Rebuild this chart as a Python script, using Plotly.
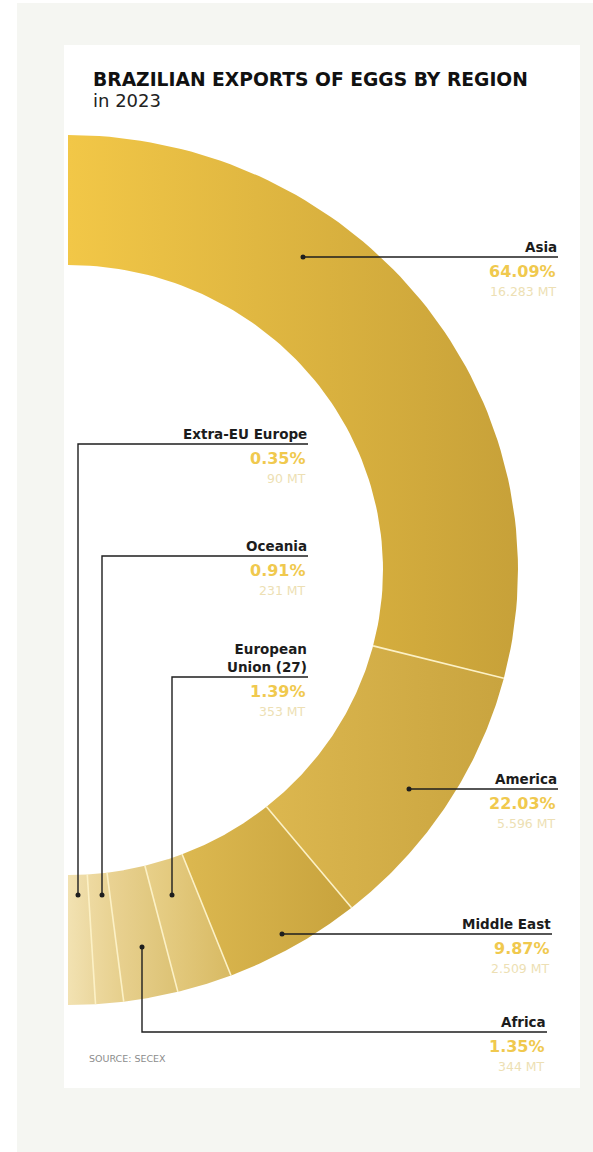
import numpy as np
import plotly.graph_objects as go

regions = ["Asia", "America", "Middle East", "European<br>Union (27)", "Africa", "Oceania", "Extra-EU Europe"]
share_pct = [64.09, 22.03, 9.87, 1.39, 1.35, 0.91, 0.35]
volume_mt = ["16.283", "5.596", "2.509", "353", "344", "231", "90"]
# size of each slice as drawn (% of the half ring) - the small regions are widened in the graphic
arc_pct = [58.0, 20.3, 9.9, 3.95, 3.9, 2.0, 1.95]

# gradient colours of each slice, left -> right
col_left = ["#f2c747", "#dcb74f", "#dcb850", "#e8d08a", "#ead394", "#eedaa2", "#f2e2b2"]
col_right = ["#c7a139", "#c9a43f", "#c8a33d", "#d8ba63", "#dcc274", "#e6cf8c", "#ebd79e"]

# label layout: right edge of text, y of leader line, dot position inside the slice
lab_right = [558, 558, 552, 308, 547, 308, 308]
lab_line_y = [257, 789, 934, 677, 1032, 556, 444]
dot_xy = [(303, 257), (409, 789), (282, 934), (172, 895), (142, 947), (102, 895), (78, 895)]

W, H = 593, 1152
cx, cy = 68, 570          # centre of the half ring
ra, rb = 450, 435         # outer radii (x, y)
ia, ib = 315, 305         # inner radii (x, y)

fig = go.Figure()

bounds = np.concatenate([[0], np.cumsum(arc_pct)]) / np.sum(arc_pct) * np.pi
for i, reg in enumerate(regions):
    t = np.linspace(bounds[i], bounds[i + 1], 80)
    xs = np.concatenate([cx + ra * np.sin(t), cx + ia * np.sin(t[::-1])])
    ys = np.concatenate([cy - rb * np.cos(t), cy - ib * np.cos(t[::-1])])
    fig.add_trace(go.Scatter(
        x=np.append(xs, xs[0]), y=np.append(ys, ys[0]), mode="lines", fill="toself",
        line=dict(width=0, color=col_right[i]),
        fillgradient=dict(type="horizontal", colorscale=[[0, col_left[i]], [1, col_right[i]]]),
        hoverinfo="skip", showlegend=False))

# pale separators between slices
sx, sy = [], []
for b in bounds[1:-1]:
    sx += [cx + ia * np.sin(b), cx + ra * np.sin(b), None]
    sy += [cy - ib * np.cos(b), cy - rb * np.cos(b), None]
fig.add_trace(go.Scatter(x=sx, y=sy, mode="lines", line=dict(color="#fcf1c6", width=1.6),
                         hoverinfo="skip", showlegend=False))

# leader lines and dots
lx, ly = [], []
for (dx, dy), yl, xr in zip(dot_xy, lab_line_y, lab_right):
    lx += [dx, dx, xr, None]
    ly += [dy, yl, yl, None]
fig.add_trace(go.Scatter(x=lx, y=ly, mode="lines", line=dict(color="#1e1e1e", width=1.4),
                         hoverinfo="skip", showlegend=False))
fig.add_trace(go.Scatter(x=[d[0] for d in dot_xy], y=[d[1] for d in dot_xy], mode="markers",
                         marker=dict(color="#1e1e1e", size=5), hoverinfo="skip", showlegend=False))

font = "DejaVu Sans, sans-serif"
for reg, pct, mt, xr, yl in zip(regions, share_pct, volume_mt, lab_right, lab_line_y):
    fig.add_annotation(x=xr, y=yl - 1, text=reg, xanchor="right", yanchor="bottom", align="right",
                       showarrow=False, borderpad=0,
                       font=dict(family=font, size=13.5, color="#1c1c1c", weight="bold"))
    fig.add_annotation(x=xr, y=yl + 14, text=f"{pct:.2f}%", xanchor="right", yanchor="middle",
                       showarrow=False, font=dict(family=font, size=16, color="#f0c94e", weight="bold"))
    fig.add_annotation(x=xr, y=yl + 34, text=f"{mt} MT", xanchor="right", yanchor="middle",
                       showarrow=False, font=dict(family=font, size=12.5, color="#eddfb4"))

fig.add_annotation(x=91, y=79, text="BRAZILIAN EXPORTS OF EGGS BY REGION", xanchor="left",
                   yanchor="middle", showarrow=False,
                   font=dict(family=font, size=18.7, color="#111111", weight="bold"))
fig.add_annotation(x=91, y=100, text="in 2023", xanchor="left", yanchor="middle", showarrow=False,
                   font=dict(family=font, size=18, color="#222222"))
fig.add_annotation(x=87, y=1058, text="SOURCE: SECEX", xanchor="left", yanchor="middle",
                   showarrow=False, font=dict(family=font, size=9.5, color="#8c8c8c"))

fig.update_layout(
    width=W, height=H, margin=dict(l=0, r=0, t=0, b=0),
    paper_bgcolor="white", plot_bgcolor="rgba(0,0,0,0)",
    xaxis=dict(range=[0, W], visible=False, fixedrange=True),
    yaxis=dict(range=[H, 0], visible=False, fixedrange=True),
    shapes=[
        dict(type="rect", xref="x", yref="y", x0=17, y0=3, x1=W, y1=H, layer="below",
             line=dict(width=0), fillcolor="#f5f6f2"),
        dict(type="rect", xref="x", yref="y", x0=64, y0=45, x1=580, y1=1088, layer="below",
             line=dict(width=0), fillcolor="white"),
    ],
)

# drop the default page margin so the figure sits at the window origin
fig.write_html("out.html", config=dict(displayModeBar=False), post_script=(
    "document.body.style.margin='0';document.body.style.overflow='hidden';"
    "Plotly.relayout(document.getElementById('{plot_id}'), {width: 593, height: 1152});"))
